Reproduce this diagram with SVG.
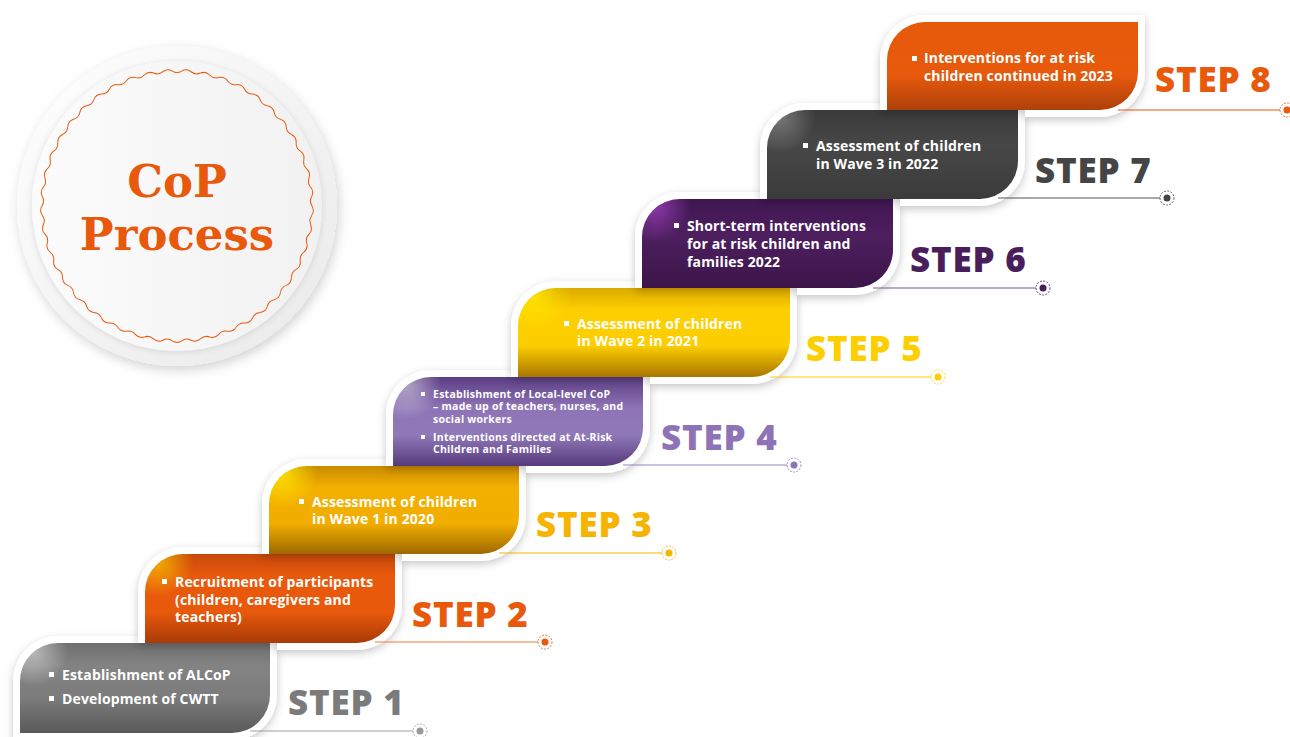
<svg xmlns="http://www.w3.org/2000/svg" xmlns:xlink="http://www.w3.org/1999/xlink" width="1290" height="737" viewBox="0 0 1290 737">
<style>
.t{font-family:"Open Sans","Noto Sans","DejaVu Sans",sans-serif;font-weight:700;font-size:14px;fill:#fff;letter-spacing:0.15px}
.t4{font-family:"Open Sans","Noto Sans","DejaVu Sans",sans-serif;font-weight:700;font-size:10.5px;fill:#fff;letter-spacing:0.25px}
.s{font-family:"Open Sans","Noto Sans","DejaVu Sans",sans-serif;font-weight:800;font-size:35px;letter-spacing:0.8px}
.b{fill:#fff}
.brd{fill:#fff;filter:url(#sh)}
.ln{fill:none;stroke-width:1.2}
.tg{fill:#fff;stroke-width:0.8;stroke-dasharray:2 1.3}
.cop{font-family:"DejaVu Serif","Liberation Serif",serif;font-weight:700;font-size:45px;fill:#e8590c;text-anchor:middle}
</style>
<defs>
<filter id="sh" x="-20%" y="-20%" width="140%" height="150%"><feDropShadow dx="0" dy="3" stdDeviation="4" flood-color="#000" flood-opacity="0.22"/></filter>
<filter id="sh2" x="-20%" y="-20%" width="140%" height="140%"><feDropShadow dx="2" dy="4" stdDeviation="6" flood-color="#000" flood-opacity="0.18"/></filter>
<filter id="sh3" x="-20%" y="-20%" width="140%" height="140%"><feDropShadow dx="0" dy="1" stdDeviation="3" flood-color="#000" flood-opacity="0.12"/></filter>
<radialGradient id="hlw" cx="0.14" cy="0.08" r="0.4" gradientTransform="scale(0.36 1)"><stop offset="0" stop-color="#fff" stop-opacity="0.5"/><stop offset="1" stop-color="#fff" stop-opacity="0"/></radialGradient>
<radialGradient id="hly" cx="0.14" cy="0.08" r="0.4" gradientTransform="scale(0.36 1)"><stop offset="0" stop-color="#ffe600" stop-opacity="0.9"/><stop offset="1" stop-color="#ffe600" stop-opacity="0"/></radialGradient>
<radialGradient id="hlp" cx="0.14" cy="0.08" r="0.4" gradientTransform="scale(0.36 1)"><stop offset="0" stop-color="#a040c0" stop-opacity="0.8"/><stop offset="1" stop-color="#a040c0" stop-opacity="0"/></radialGradient>
<linearGradient id="g1" x1="0" y1="0" x2="0" y2="1"><stop offset="0" stop-color="#6e6e6e"/><stop offset="0.25" stop-color="#838383"/><stop offset="0.6" stop-color="#7c7c7c"/><stop offset="1" stop-color="#5a5a5a"/></linearGradient>
<linearGradient id="g2" x1="0" y1="0" x2="0" y2="1"><stop offset="0" stop-color="#c8480a"/><stop offset="0.25" stop-color="#e8590c"/><stop offset="0.65" stop-color="#e8590c"/><stop offset="1" stop-color="#a83a07"/></linearGradient>
<linearGradient id="g3" x1="0" y1="0" x2="0" y2="1"><stop offset="0" stop-color="#c98b00"/><stop offset="0.25" stop-color="#f4b000"/><stop offset="0.65" stop-color="#f2ae00"/><stop offset="1" stop-color="#9e6800"/></linearGradient>
<linearGradient id="g4" x1="0" y1="0" x2="0" y2="1"><stop offset="0" stop-color="#5b3d83"/><stop offset="0.35" stop-color="#8e74b6"/><stop offset="0.65" stop-color="#9079b9"/><stop offset="1" stop-color="#563a7c"/></linearGradient>
<linearGradient id="g5" x1="0" y1="0" x2="0" y2="1"><stop offset="0" stop-color="#dcaa00"/><stop offset="0.25" stop-color="#fecf00"/><stop offset="0.65" stop-color="#fccd00"/><stop offset="1" stop-color="#a87600"/></linearGradient>
<linearGradient id="g6" x1="0" y1="0" x2="0" y2="1"><stop offset="0" stop-color="#3f1650"/><stop offset="0.4" stop-color="#4d1f5f"/><stop offset="1" stop-color="#3c1549"/></linearGradient>
<linearGradient id="g7" x1="0" y1="0" x2="0" y2="1"><stop offset="0" stop-color="#3a3a3a"/><stop offset="0.4" stop-color="#474747"/><stop offset="1" stop-color="#3b3b3b"/></linearGradient>
<linearGradient id="g8" x1="0" y1="0" x2="0" y2="1"><stop offset="0" stop-color="#e65a0c"/><stop offset="0.6" stop-color="#e8590c"/><stop offset="1" stop-color="#ad400a"/></linearGradient>
<linearGradient id="co" x1="0" y1="0" x2="1" y2="1"><stop offset="0" stop-color="#ffffff"/><stop offset="1" stop-color="#e9e9e9"/></linearGradient>
<linearGradient id="ci" x1="0" y1="0" x2="1" y2="0"><stop offset="0" stop-color="#fcfcfc"/><stop offset="1" stop-color="#f1f1f1"/></linearGradient>
<path id="wv" d="M135,0 Q137.9,4.82 134.67,9.42 Q131.28,13.8 133.69,18.79" fill="none" stroke="#e8590c" stroke-width="1"/>
</defs>
<rect width="1290" height="737" fill="#fff"/>

<g id="cop-circle">
<circle cx="177" cy="206" r="160" fill="url(#co)" filter="url(#sh2)"/>
<circle cx="177" cy="206" r="145" fill="url(#ci)" filter="url(#sh3)"/>
<g transform="translate(177 206)">
<use xlink:href="#wv"/><use xlink:href="#wv" transform="rotate(8)"/><use xlink:href="#wv" transform="rotate(16)"/><use xlink:href="#wv" transform="rotate(24)"/><use xlink:href="#wv" transform="rotate(32)"/><use xlink:href="#wv" transform="rotate(40)"/><use xlink:href="#wv" transform="rotate(48)"/><use xlink:href="#wv" transform="rotate(56)"/><use xlink:href="#wv" transform="rotate(64)"/><use xlink:href="#wv" transform="rotate(72)"/><use xlink:href="#wv" transform="rotate(80)"/><use xlink:href="#wv" transform="rotate(88)"/><use xlink:href="#wv" transform="rotate(96)"/><use xlink:href="#wv" transform="rotate(104)"/><use xlink:href="#wv" transform="rotate(112)"/><use xlink:href="#wv" transform="rotate(120)"/><use xlink:href="#wv" transform="rotate(128)"/><use xlink:href="#wv" transform="rotate(136)"/><use xlink:href="#wv" transform="rotate(144)"/><use xlink:href="#wv" transform="rotate(152)"/><use xlink:href="#wv" transform="rotate(160)"/><use xlink:href="#wv" transform="rotate(168)"/><use xlink:href="#wv" transform="rotate(176)"/><use xlink:href="#wv" transform="rotate(184)"/><use xlink:href="#wv" transform="rotate(192)"/><use xlink:href="#wv" transform="rotate(200)"/><use xlink:href="#wv" transform="rotate(208)"/><use xlink:href="#wv" transform="rotate(216)"/><use xlink:href="#wv" transform="rotate(224)"/><use xlink:href="#wv" transform="rotate(232)"/><use xlink:href="#wv" transform="rotate(240)"/><use xlink:href="#wv" transform="rotate(248)"/><use xlink:href="#wv" transform="rotate(256)"/><use xlink:href="#wv" transform="rotate(264)"/><use xlink:href="#wv" transform="rotate(272)"/><use xlink:href="#wv" transform="rotate(280)"/><use xlink:href="#wv" transform="rotate(288)"/><use xlink:href="#wv" transform="rotate(296)"/><use xlink:href="#wv" transform="rotate(304)"/><use xlink:href="#wv" transform="rotate(312)"/><use xlink:href="#wv" transform="rotate(320)"/><use xlink:href="#wv" transform="rotate(328)"/><use xlink:href="#wv" transform="rotate(336)"/><use xlink:href="#wv" transform="rotate(344)"/><use xlink:href="#wv" transform="rotate(352)"/>
</g>
<text class="cop" x="177" y="197">CoP</text>
<text class="cop" x="177" y="250">Process</text>
</g>

<g id="step1">
<path class="brd" d="M13,740 V681 A45,45 0 0 1 58,636 H277 V695 A45,45 0 0 1 232,740 Z"/>
<path d="M20,733 V681 A38,38 0 0 1 58,643 H270 V695 A38,38 0 0 1 232,733 Z" fill="url(#g1)"/>
<path d="M20,733 V681 A38,38 0 0 1 58,643 H270 V695 A38,38 0 0 1 232,733 Z" fill="url(#hlw)"/>
<rect class="b" x="49" y="672" width="5" height="5"/><text class="t" x="62" y="680">Establishment of ALCoP</text>
<rect class="b" x="49" y="696" width="5" height="5"/><text class="t" x="62" y="704">Development of CWTT</text>
<text class="s" x="288" y="715" fill="#7b7b7b">STEP 1</text>
</g>

<g id="step2">
<path class="brd" d="M138,643 V592 A45 45 0 0 1 183,547 H402 V605 A45 45 0 0 1 357,650 H277 V643 Z"/>
<path d="M145,643 V592 A38 38 0 0 1 183,554 H395 V605 A38 38 0 0 1 357,643 Z" fill="url(#g2)"/>
<path d="M145,643 V592 A38 38 0 0 1 183,554 H395 V605 A38 38 0 0 1 357,643 Z" fill="url(#hly)" opacity="0.7"/>
<rect class="b" x="162" y="579" width="5" height="5"/>
<text class="t" x="175" y="587">Recruitment of participants</text>
<text class="t" x="175" y="605">(children, caregivers and</text>
<text class="t" x="175" y="622">teachers)</text>
<text class="s" x="412" y="627" fill="#e8590c">STEP 2</text>
</g>

<g id="step3">
<path class="brd" d="M262,554 V504 A45 45 0 0 1 307,459 H526 V516 A45 45 0 0 1 481,561 H402 V554 Z"/>
<path d="M269,554 V504 A38 38 0 0 1 307,466 H519 V516 A38 38 0 0 1 481,554 Z" fill="url(#g3)"/>
<path d="M269,554 V504 A38 38 0 0 1 307,466 H519 V516 A38 38 0 0 1 481,554 Z" fill="url(#hly)"/>
<rect class="b" x="299" y="499" width="5" height="5"/>
<text class="t" x="312" y="507">Assessment of children</text>
<text class="t" x="312" y="524">in Wave 1 in 2020</text>
<text class="s" x="536" y="537" fill="#f5b400">STEP 3</text>
</g>

<g id="step4">
<path class="brd" d="M386,466 V415 A45 45 0 0 1 431,370 H650 V428 A45 45 0 0 1 605,473 H526 V466 Z"/>
<path d="M393,466 V415 A38 38 0 0 1 431,377 H643 V428 A38 38 0 0 1 605,466 Z" fill="url(#g4)"/>
<path d="M393,466 V415 A38 38 0 0 1 431,377 H643 V428 A38 38 0 0 1 605,466 Z" fill="url(#hlw)"/>
<rect class="b" x="421" y="392" width="4" height="4"/>
<text class="t4" x="433" y="398">Establishment of Local-level CoP</text>
<text class="t4" x="433" y="410">– made up of teachers, nurses, and</text>
<text class="t4" x="433" y="423">social workers</text>
<rect class="b" x="421" y="435" width="4" height="4"/>
<text class="t4" x="433" y="441">Interventions directed at At-Risk</text>
<text class="t4" x="433" y="453">Children and Families</text>
<text class="s" x="661" y="450" fill="#8e74b6">STEP 4</text>
</g>

<g id="step5">
<path class="brd" d="M511,377 V326 A45 45 0 0 1 556,281 H797 V339 A45 45 0 0 1 752,384 H650 V377 Z"/>
<path d="M518,377 V326 A38 38 0 0 1 556,288 H790 V339 A38 38 0 0 1 752,377 Z" fill="url(#g5)"/>
<path d="M518,377 V326 A38 38 0 0 1 556,288 H790 V339 A38 38 0 0 1 752,377 Z" fill="url(#hly)"/>
<rect class="b" x="564" y="321" width="5" height="5"/>
<text class="t" x="577" y="329">Assessment of children</text>
<text class="t" x="577" y="346">in Wave 2 in 2021</text>
<text class="s" x="806" y="361" fill="#fdcf00">STEP 5</text>
</g>

<g id="step6">
<path class="brd" d="M635,288 V237 A45 45 0 0 1 680,192 H900 V250 A45 45 0 0 1 855,295 H797 V288 Z"/>
<path d="M642,288 V237 A38 38 0 0 1 680,199 H893 V250 A38 38 0 0 1 855,288 Z" fill="url(#g6)"/>
<path d="M642,288 V237 A38 38 0 0 1 680,199 H893 V250 A38 38 0 0 1 855,288 Z" fill="url(#hlp)"/>
<rect class="b" x="674" y="223" width="5" height="5"/>
<text class="t" x="687" y="231">Short-term interventions</text>
<text class="t" x="687" y="249">for at risk children and</text>
<text class="t" x="687" y="267">families 2022</text>
<text class="s" x="910" y="272" fill="#4a1d5b">STEP 6</text>
</g>

<g id="step7">
<path class="brd" d="M760,199 V148 A45 45 0 0 1 805,103 H1025 V161 A45 45 0 0 1 980,206 H900 V199 Z"/>
<path d="M767,199 V148 A38 38 0 0 1 805,110 H1018 V161 A38 38 0 0 1 980,199 Z" fill="url(#g7)"/>
<path d="M767,199 V148 A38 38 0 0 1 805,110 H1018 V161 A38 38 0 0 1 980,199 Z" fill="url(#hlw)" opacity="0.6"/>
<rect class="b" x="803" y="143" width="5" height="5"/>
<text class="t" x="816" y="151">Assessment of children</text>
<text class="t" x="816" y="169">in Wave 3 in 2022</text>
<text class="s" x="1035" y="183" fill="#454545">STEP 7</text>
</g>

<g id="step8">
<path class="brd" d="M880,110 V60 A45 45 0 0 1 925,15 H1145 V72 A45 45 0 0 1 1100,117 H1025 V110 Z"/>
<path d="M887,110 V60 A38 38 0 0 1 925,22 H1138 V72 A38 38 0 0 1 1100,110 Z" fill="url(#g8)"/>
<rect class="b" x="912" y="56" width="5" height="5"/>
<text class="t" x="924" y="63">Interventions for at risk</text>
<text class="t" x="924" y="81">children continued in 2023</text>
<text class="s" x="1155" y="92" fill="#e8590c">STEP 8</text>
</g>

<g id="connectors">
<path class="ln" stroke="#a0a0a0" d="M250,731 H413"/>
<circle class="tg" stroke="#999" cx="420" cy="731" r="7"/><circle cx="420" cy="731" r="3.5" fill="#999"/>
<path class="ln" stroke="#ef7c3c" d="M375,642 H538"/>
<circle class="tg" stroke="#e8590c" cx="545" cy="642" r="7"/><circle cx="545" cy="642" r="3.5" fill="#e8590c"/>
<path class="ln" stroke="#f5b400" d="M499,553 H662"/>
<circle class="tg" stroke="#f5b400" cx="669" cy="553" r="7"/><circle cx="669" cy="553" r="3.5" fill="#f5b400"/>
<path class="ln" stroke="#9a82c2" d="M623,465 H787"/>
<circle class="tg" stroke="#8e74b6" cx="794" cy="465" r="7"/><circle cx="794" cy="465" r="3.5" fill="#8e74b6"/>
<path class="ln" stroke="#fdcf00" d="M770,377 H931"/>
<circle class="tg" stroke="#fdcf00" cx="938" cy="377" r="7"/><circle cx="938" cy="377" r="3.5" fill="#fdcf00"/>
<path class="ln" stroke="#7e5a90" d="M873,288 H1036"/>
<circle class="tg" stroke="#4a1d5b" cx="1043" cy="288" r="7"/><circle cx="1043" cy="288" r="3.5" fill="#4a1d5b"/>
<path class="ln" stroke="#555" d="M998,198 H1160"/>
<circle class="tg" stroke="#444" cx="1167" cy="198" r="7"/><circle cx="1167" cy="198" r="3.5" fill="#444"/>
<path class="ln" stroke="#e8590c" d="M1118,110 H1280"/>
<circle class="tg" stroke="#e8590c" cx="1287" cy="110" r="7"/><circle cx="1287" cy="110" r="3.5" fill="#e8590c"/>
</g>
</svg>
